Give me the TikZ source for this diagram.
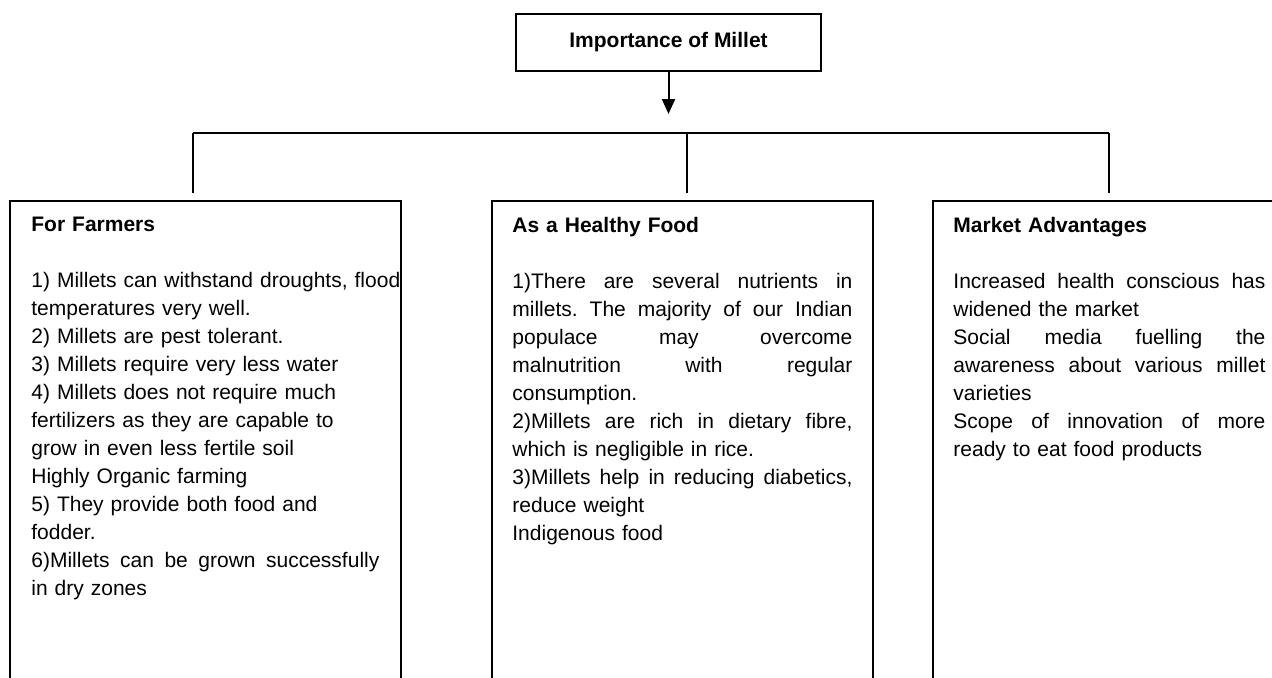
\documentclass[tikz,border=0pt]{standalone}
\usepackage{fontspec}
\setmainfont{Liberation Sans}
\usetikzlibrary{arrows.meta}
\newcommand{\jl}[1]{{\spaceskip=0pt\xspaceskip=0pt\makebox[\jw][s]{#1}}}
\newcommand{\ol}[1]{\makebox[\jw][l]{#1}}
\newcommand{\boxfont}{\fontsize{10.5}{14}\selectfont\frenchspacing}
\tikzset{
    box/.style={draw, line width=1pt, rectangle, inner sep=0pt, anchor=north west},
    boxtext/.style={anchor=north west, inner sep=0pt, align=left, font=\boxfont,
                    text width=#1, execute at begin node={\def\jw{#1}}},
    link/.style={line width=1pt}
}
\begin{document}
\begin{tikzpicture}[x=0.5pt,y=0.5pt]
    \path[use as bounding box, clip] (0,0) rectangle (1272,-677);

    \node[box, anchor=center, minimum width=152.5pt, minimum height=28.5pt,
          font=\boxfont\bfseries] (title) at (668.5,-42.5) {Importance of Millet};

    \node[box, minimum width=195.5pt, minimum height=300pt] (farm) at (9,-200) {};
    \node[box, minimum width=190.5pt, minimum height=300pt] (food) at (491,-200) {};
    \node[box, minimum width=200pt, minimum height=300pt] (market) at (932,-200) {};

    \node[boxtext=174pt] (farmtext) at ([shift={(22,-17)}]farm.north west) {
        \textbf{For Farmers}\\[14pt]
        \ol{1) Millets can withstand droughts, flood}\\
        temperatures very well.\\
        2) Millets are pest tolerant.\\
        3) Millets require very less water\\
        4) Millets does not require much\\
        fertilizers as they are capable to\\
        grow in even less fertile soil\\
        Highly Organic farming\\
        5) They provide both food and\\
        fodder.\\
        \jl{6)Millets can be grown successfully}\\
        in dry zones};

    \node[boxtext=170pt] (foodtext) at ([shift={(21,-17)}]food.north west) {
        \textbf{As a Healthy Food}\\[14pt]
        \jl{1)There are several nutrients in}\\
        \jl{millets. The majority of our Indian}\\
        \jl{populace may overcome}\\
        \jl{malnutrition with regular}\\
        consumption.\\
        \jl{2)Millets are rich in dietary fibre,}\\
        which is negligible in rice.\\
        \jl{3)Millets help in reducing diabetics,}\\
        reduce weight\\
        Indigenous food};

    \node[boxtext=156pt] (markettext) at ([shift={(21,-17)}]market.north west) {
        \textbf{Market Advantages}\\[14pt]
        \jl{Increased health conscious has}\\
        widened the market\\
        \jl{Social media fuelling the}\\
        \jl{awareness about various millet}\\
        varieties\\
        \jl{Scope of innovation of more}\\
        ready to eat food products};

    \coordinate (tip) at ([yshift=-21pt]title.south);
    \coordinate (barl) at (193,-133);
    \coordinate (barm) at (687,-133);
    \coordinate (barr) at (1109,-133);

    \draw[link, -{Triangle[length=7.5pt, width=6.5pt]}] (title) -- (tip);
    \draw[link] (barl) -- (barr);
    \foreach \b/\n in {barl/farm, barm/food, barr/market}
        \draw[link] (\b) -- ([yshift=3.5pt]\b |- \n.north);
\end{tikzpicture}
\end{document}
